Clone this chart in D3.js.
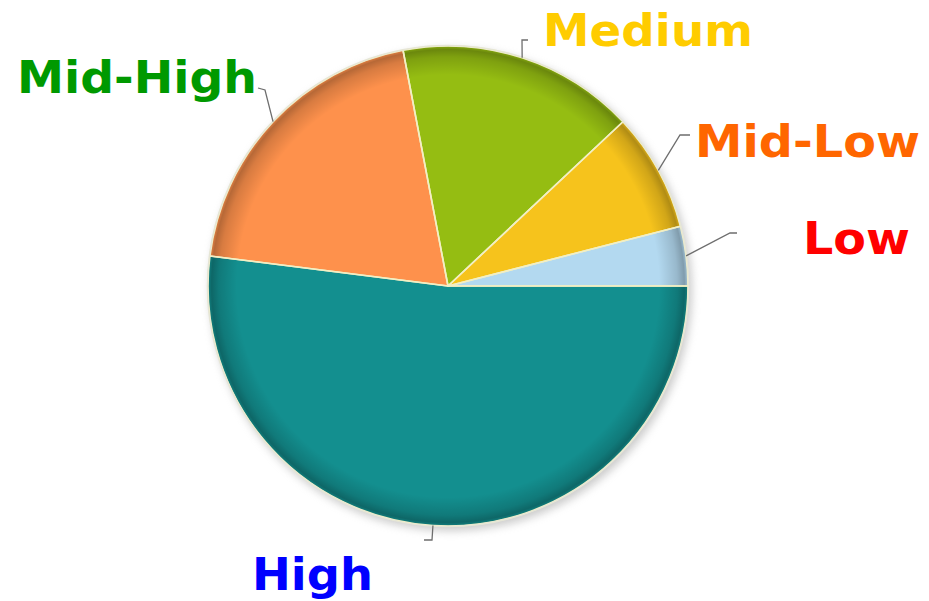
<!DOCTYPE html>
<html>
<head>
<meta charset="utf-8">
<script src="https://cdn.jsdelivr.net/npm/d3@7"></script>
<style>
html,body{margin:0;padding:0;background:#fff;}
svg{display:block;}
</style>
</head>
<body>
<svg id="chart" width="929" height="601"></svg>
<script>
// ---- data ----
const categories = ["Low", "Mid-Low", "Medium", "Mid-High", "High"];
const values = [4, 8, 16, 20, 52];
const sliceColors = ["#b3d9f0", "#f6c31c", "#95bd12", "#fe914c", "#138f8f"];
const labelColors = ["#ff0000", "#ff6600", "#ffcc00", "#009900", "#0000ff"];

// ---- layout (not data) ----
const cx = 448, cy = 286, R = 240;
const labelLayout = {
  "Low":      {elbow: [730, 233], end: [737, 233], tx: 803, ty: 254, w: 107},
  "Mid-Low":  {elbow: [680, 135], end: [690, 135], tx: 695, ty: 157, w: 225},
  "Medium":   {elbow: [522, 40],  end: [528, 40],  tx: 543, ty: 46,  w: 210},
  "Mid-High": {elbow: [265, 90],  end: [258, 88],  tx: 17,  ty: 93,  w: 240},
  "High":     {elbow: [432, 540], end: [424, 540], tx: 252, ty: 590, w: 121}
};

const svg = d3.select("#chart");
const defs = svg.append("defs");

const blur = defs.append("filter").attr("id", "shadow")
  .attr("x", "-20%").attr("y", "-20%").attr("width", "140%").attr("height", "140%");
blur.append("feGaussianBlur").attr("stdDeviation", 4);

const rg = defs.append("radialGradient").attr("id", "rim")
  .attr("cx", "50%").attr("cy", "50%").attr("r", "50%");
rg.append("stop").attr("offset", "0%").attr("stop-color", "#000").attr("stop-opacity", 0);
rg.append("stop").attr("offset", "88%").attr("stop-color", "#000").attr("stop-opacity", 0);
rg.append("stop").attr("offset", "95.5%").attr("stop-color", "#000").attr("stop-opacity", 0.15);
rg.append("stop").attr("offset", "98.5%").attr("stop-color", "#000").attr("stop-opacity", 0.28);
rg.append("stop").attr("offset", "100%").attr("stop-color", "#000").attr("stop-opacity", 0.1);

const g = svg.append("g").attr("transform", `translate(${cx},${cy})`);

// drop shadow
g.append("circle").attr("cx", 3).attr("cy", 4).attr("r", R + 1)
  .attr("fill", "#9a9a9a").attr("opacity", 0.5).attr("filter", "url(#shadow)");

const pie = d3.pie().sort(null).value(d => d)
  .startAngle(Math.PI / 2).endAngle(Math.PI / 2 - 2 * Math.PI);
const arcs = pie(values);
const arc = d3.arc().innerRadius(0).outerRadius(R);

g.selectAll("path.slice").data(arcs).enter().append("path")
  .attr("class", "slice")
  .attr("d", arc)
  .attr("fill", (d, i) => sliceColors[i]);

// rim shading
g.append("circle").attr("r", R).attr("fill", "url(#rim)");

// slice borders
g.selectAll("path.border").data(arcs).enter().append("path")
  .attr("class", "border")
  .attr("d", arc)
  .attr("fill", "none")
  .attr("stroke", "#f2efc4")
  .attr("stroke-width", 1.6)
  .attr("stroke-linejoin", "round");
g.append("circle").attr("r", R + 0.5).attr("fill", "none")
  .attr("stroke", "#e6e6d6").attr("stroke-width", 1.5);

// leader lines + labels
arcs.forEach((d, i) => {
  const name = categories[i];
  const L = labelLayout[name];
  const mid = (d.startAngle + d.endAngle) / 2; // d3 angle: 0 at 12 o'clock, clockwise
  const ax = cx + R * Math.sin(mid);
  const ay = cy - R * Math.cos(mid);
  svg.append("polyline")
    .attr("points", [[ax, ay], L.elbow, L.end].map(p => p.join(",")).join(" "))
    .attr("fill", "none").attr("stroke", "#6e6e6e").attr("stroke-width", 1.3);
  svg.append("text")
    .attr("x", L.tx).attr("y", L.ty)
    .attr("font-family", "'DejaVu Sans', Verdana, sans-serif")
    .attr("font-weight", "bold")
    .attr("font-size", 45)
    .attr("textLength", L.w)
    .attr("lengthAdjust", "spacingAndGlyphs")
    .attr("fill", labelColors[i])
    .text(name);
});
</script>
</body>
</html>
